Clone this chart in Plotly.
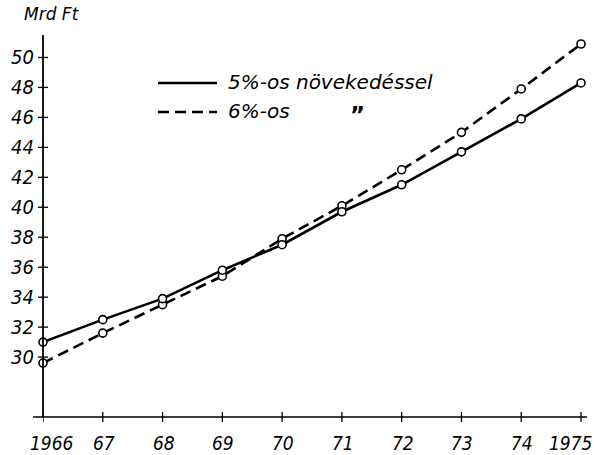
import plotly.graph_objects as go

years = [1966, 1967, 1968, 1969, 1970, 1971, 1972, 1973, 1974, 1975]
growth_5pct = [31.0, 32.5, 33.9, 35.8, 37.5, 39.7, 41.5, 43.7, 45.9, 48.3]
growth_6pct = [29.6, 31.6, 33.5, 35.4, 37.9, 40.1, 42.5, 45.0, 47.9, 50.9]
y_ticks = [30, 32, 34, 36, 38, 40, 42, 44, 46, 48, 50]
x_tick_labels = ["1966", "67", "68", "69", "70", "71", "72", "73", "74", "1975"]
unit_label = "Mrd Ft"
legend_5 = "5%-os növekedéssel"
legend_6 = "6%-os"
ditto = "”"

W, H = 594, 455
ML, MR, MT, MB = 43, 7, 35, 38
PW, PH = W - ML - MR, H - MT - MB


def px_x(p):
    return (p - ML) / PW


def px_y(p):
    return (H - MB - p) / PH


tick_font = dict(family="DejaVu Sans Condensed", size=20, color="black", style="italic")
xtick_font = dict(family="DejaVu Sans Condensed", size=19, color="black", style="italic")
text_font = dict(family="DejaVu Sans", size=20, color="black", style="italic")

fig = go.Figure()
marker = dict(symbol="circle", size=8, color="white", line=dict(color="black", width=1.6))
fig.add_trace(go.Scatter(x=years, y=growth_6pct, mode="lines+markers", cliponaxis=False,
                         line=dict(color="black", width=2.6, dash="11px,6px"),
                         marker=marker, name=legend_6, showlegend=False))
fig.add_trace(go.Scatter(x=years, y=growth_5pct, mode="lines+markers", cliponaxis=False,
                         line=dict(color="black", width=2.6),
                         marker=marker, name=legend_5, showlegend=False))

shapes = []
# axis lines
shapes.append(dict(type="line", xref="paper", yref="paper", x0=px_x(33), x1=1.0, y0=0, y1=0,
                   line=dict(color="black", width=1.6)))
shapes.append(dict(type="line", xref="paper", yref="paper", x0=0, x1=0, y0=0, y1=1.0,
                   line=dict(color="black", width=1.8)))
# crossing tick marks
for v in y_ticks:
    shapes.append(dict(type="line", xref="paper", yref="y", xsizemode="pixel", xanchor=0,
                       x0=-5, x1=5, y0=v, y1=v, line=dict(color="black", width=1.3)))
for v in years:
    shapes.append(dict(type="line", xref="x", yref="paper", ysizemode="pixel", yanchor=0,
                       x0=v, x1=v, y0=-5, y1=5, line=dict(color="black", width=1.3)))
# legend samples
shapes.append(dict(type="line", xref="paper", yref="paper", x0=px_x(158), x1=px_x(217),
                   y0=px_y(83), y1=px_y(83), line=dict(color="black", width=2.6)))
shapes.append(dict(type="line", xref="paper", yref="paper", x0=px_x(158), x1=px_x(217),
                   y0=px_y(112), y1=px_y(112), line=dict(color="black", width=2.6, dash="11px,6px")))

annotations = [
    dict(text=unit_label, xref="paper", yref="paper", x=px_x(22), y=px_y(14),
         xanchor="left", yanchor="middle", showarrow=False,
         font=dict(family="DejaVu Sans", size=17, color="black", style="italic")),
    dict(text=legend_5, xref="paper", yref="paper", x=px_x(226), y=px_y(82),
         xanchor="left", yanchor="middle", showarrow=False, font=text_font),
    dict(text=legend_6, xref="paper", yref="paper", x=px_x(226), y=px_y(111),
         xanchor="left", yanchor="middle", showarrow=False, font=text_font),
    dict(text=ditto, xref="paper", yref="paper", x=px_x(357), y=px_y(115),
         xanchor="center", yanchor="middle", showarrow=False,
         font=dict(family="DejaVu Sans", size=23, color="black", weight="bold")),
]
# x tick labels (first/last nudged inward as in the original print)
for i, (yr, lab) in enumerate(zip(years, x_tick_labels)):
    shift = 9 if i == 0 else (-10 if i == len(years) - 1 else 1)
    annotations.append(dict(text=lab, xref="x", yref="paper", x=yr, y=0, yshift=-13,
                            xshift=shift, xanchor="center", yanchor="top", showarrow=False,
                            font=xtick_font))

fig.update_layout(
    width=W, height=H,
    margin=dict(l=ML, r=MR, t=MT, b=MB, pad=0),
    paper_bgcolor="white", plot_bgcolor="white",
    showlegend=False,
    shapes=shapes, annotations=annotations,
    xaxis=dict(range=[1966, 1975.1], showticklabels=False,
               showgrid=False, zeroline=False, showline=False, ticks="", automargin=False),
    yaxis=dict(range=[26, 51.5], tickmode="array", tickvals=y_ticks, automargin=False,
               showgrid=False, zeroline=False, showline=False, ticks="",
               tickfont=tick_font, ticklabelstandoff=8),
)

fig.write_html("out.html", config={"displayModeBar": False},
               post_script="document.body.style.margin='0';document.body.style.overflow='hidden';")
